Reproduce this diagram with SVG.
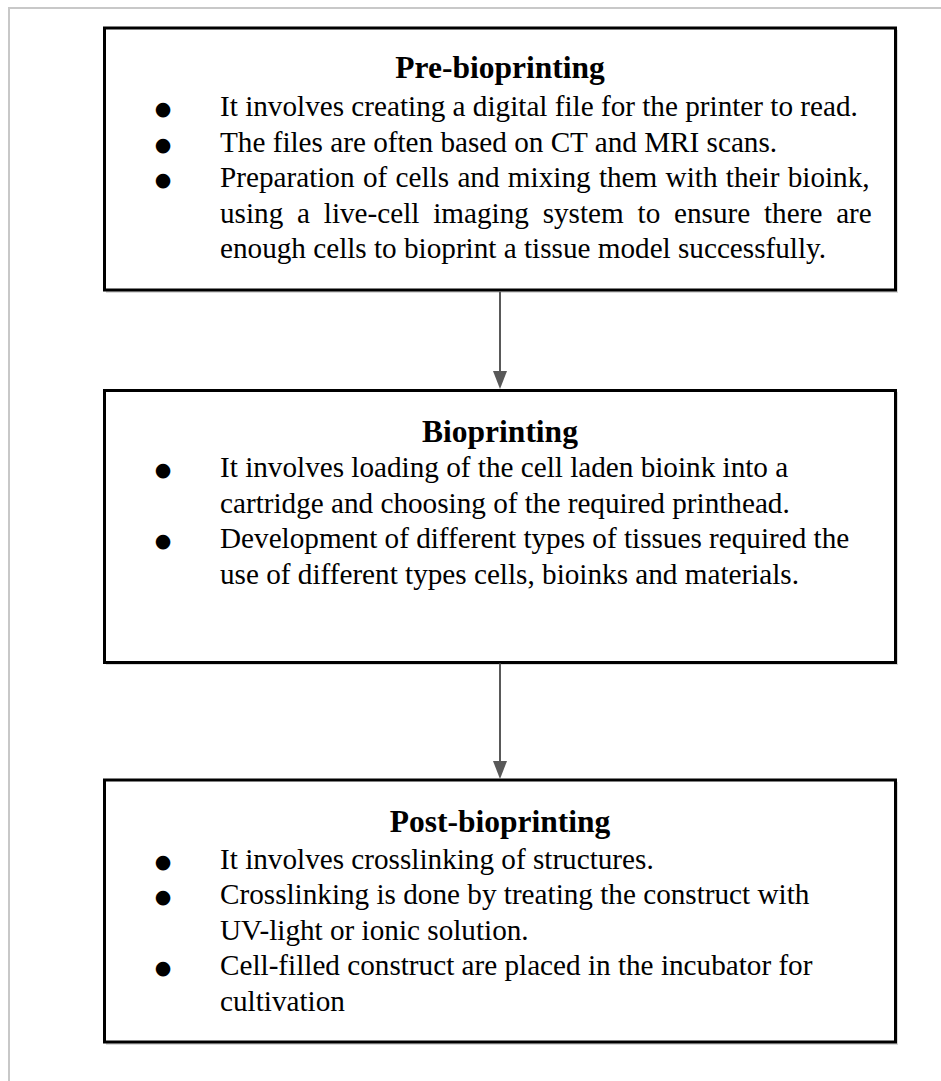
<svg xmlns="http://www.w3.org/2000/svg" width="941" height="1081" viewBox="0 0 941 1081">
<style>
.box{fill:#ffffff;stroke:#000000;stroke-width:3}
.shadow{fill:#000000;opacity:0.15}
.title{font-family:"Liberation Serif","Times New Roman",serif;font-size:31.5px;font-weight:bold;fill:#000000;text-anchor:middle}
.body{font-family:"Liberation Serif","Times New Roman",serif;font-size:29.2px;fill:#000000}
.bul{font-family:"DejaVu Sans",sans-serif;font-size:19px;fill:#000000;text-anchor:middle}
.conn{stroke:#595959;stroke-width:2;fill:none}
.head{fill:#595959}
</style>
<rect x="0" y="0" width="941" height="1081" fill="#ffffff"/>
<path d="M9,1081 L9,8 L941,8" fill="none" stroke="#c8c8c8" stroke-width="2"/>

<g id="node-pre-bioprinting">
<rect class="shadow" x="106" y="30" width="792" height="263"/>
<rect class="box" x="104.5" y="28" width="791" height="262"/>
<text class="title" x="500" y="78">Pre-bioprinting</text>
<text class="bul" x="163" y="115">●</text>
<text class="body" x="220" y="116">It involves creating a digital file for the printer to read.</text>
<text class="bul" x="163" y="150.5">●</text>
<text class="body" x="220" y="151.5">The files are often based on CT and MRI scans.</text>
<text class="bul" x="163" y="186">●</text>
<text class="body" x="220" y="187" word-spacing="1.05">Preparation of cells and mixing them with their bioink,</text>
<text class="body" x="220" y="222.5" word-spacing="6.5">using a live-cell imaging system to ensure there are</text>
<text class="body" x="220" y="258">enough cells to bioprint a tissue model successfully.</text>
</g>

<g id="node-bioprinting">
<rect class="shadow" x="106" y="392" width="792" height="273"/>
<rect class="box" x="104.5" y="390.5" width="791" height="272"/>
<text class="title" x="500" y="441.5">Bioprinting</text>
<text class="bul" x="163" y="476">●</text>
<text class="body" x="220" y="477">It involves loading of the cell laden bioink into a</text>
<text class="body" x="220" y="512.5">cartridge and choosing of the required printhead.</text>
<text class="bul" x="163" y="547">●</text>
<text class="body" x="220" y="548">Development of different types of tissues required the</text>
<text class="body" x="220" y="583.5">use of different types cells, bioinks and materials.</text>
</g>

<g id="node-post-bioprinting">
<rect class="shadow" x="106" y="782" width="792" height="263"/>
<rect class="box" x="104.5" y="780" width="791" height="262"/>
<text class="title" x="500" y="832">Post-bioprinting</text>
<text class="bul" x="163" y="867.5">●</text>
<text class="body" x="220" y="868.5">It involves crosslinking of structures.</text>
<text class="bul" x="163" y="903">●</text>
<text class="body" x="220" y="904">Crosslinking is done by treating the construct with</text>
<text class="body" x="220" y="939.7">UV-light or ionic solution.</text>
<text class="bul" x="163" y="974.3">●</text>
<text class="body" x="220" y="975.3">Cell-filled construct are placed in the incubator for</text>
<text class="body" x="220" y="1011">cultivation</text>
</g>

<g id="connectors">
<line class="conn" x1="500" y1="291.5" x2="500" y2="372"/>
<path class="head" d="M493,371 L507,371 L500,389 Z"/>
<line class="conn" x1="500" y1="663.5" x2="500" y2="762"/>
<path class="head" d="M493,761 L507,761 L500,779 Z"/>
</g>
</svg>
